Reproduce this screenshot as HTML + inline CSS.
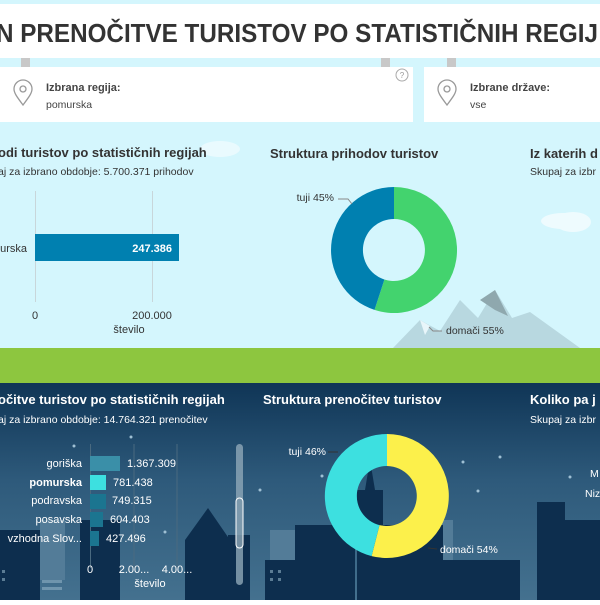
<!DOCTYPE html>
<html><head><meta charset="utf-8"><style>
body{margin:0;width:600px;height:600px;overflow:hidden;font-family:"Liberation Sans",sans-serif}
</style></head><body>
<svg width="600" height="600" viewBox="0 0 600 600" xmlns="http://www.w3.org/2000/svg" font-family="Liberation Sans, sans-serif">
<defs>
<linearGradient id="night" x1="0" y1="0" x2="0" y2="1">
<stop offset="0" stop-color="#0f3556"/><stop offset="0.45" stop-color="#2e5a7b"/><stop offset="1" stop-color="#44718f"/>
</linearGradient>
</defs>
<rect width="600" height="600" fill="#d4f6fd"/>
<rect x="0" y="4" width="600" height="54" fill="#fff"/>
<text x="-4" y="42" font-size="26" font-weight="bold" fill="#333" textLength="602" lengthAdjust="spacingAndGlyphs">N PRENOČITVE TURISTOV PO STATISTIČNIH REGIJ</text>
<rect x="21" y="58" width="9" height="9" fill="#c8c8c8"/>
<rect x="381" y="58" width="9" height="9" fill="#c8c8c8"/>
<rect x="447" y="58" width="9" height="9" fill="#c8c8c8"/>
<rect x="0" y="67" width="413" height="55" fill="#fff"/>
<rect x="424" y="67" width="176" height="55" fill="#fff"/>
<circle cx="402" cy="75" r="6" fill="none" stroke="#aaa" stroke-width="1"/>
<text x="402" y="78" font-size="8" fill="#999" text-anchor="middle">?</text>
<g fill="none" stroke="#999" stroke-width="1.3">
<path d="M23,105 C17,97 14,93 14,89 A9,9 0 0 1 32,89 C32,93 29,97 23,105 Z"/><circle cx="23" cy="89" r="3"/>
<path d="M447,105 C441,97 438,93 438,89 A9,9 0 0 1 456,89 C456,93 453,97 447,105 Z"/><circle cx="447" cy="89" r="3"/>
</g>
<text x="46" y="91" font-size="11" font-weight="bold" fill="#444">Izbrana regija:</text>
<text x="46" y="108" font-size="10.5" fill="#444">pomurska</text>
<text x="470" y="91" font-size="11" font-weight="bold" fill="#444">Izbrane države:</text>
<text x="470" y="108" font-size="10.5" fill="#444">vse</text>
<ellipse cx="220" cy="149" rx="20" ry="8" fill="#e9fafe"/>
<ellipse cx="563" cy="221" rx="22" ry="8" fill="#eefbfe"/>
<ellipse cx="573" cy="222" rx="18" ry="10" fill="#eefbfe"/>
<text x="-2" y="157" font-size="13" font-weight="bold" fill="#333">odi turistov po statističnih regijah</text>
<text x="-2" y="175" font-size="10.5" fill="#333">aj za izbrano obdobje: 5.700.371 prihodov</text>
<text x="270" y="158" font-size="13" font-weight="bold" fill="#333">Struktura prihodov turistov</text>
<text x="530" y="158" font-size="13" font-weight="bold" fill="#333">Iz katerih d</text>
<text x="530" y="175" font-size="10.5" fill="#333">Skupaj za izbr</text>
<line x1="35.5" y1="191" x2="35.5" y2="302" stroke="#c8d6da"/>
<line x1="152.5" y1="191" x2="152.5" y2="302" stroke="#c8d6da"/>
<rect x="35" y="234" width="144" height="27" fill="#0080b0"/>
<text x="172" y="252" font-size="11" font-weight="bold" fill="#fff" text-anchor="end">247.386</text>
<text x="27" y="252" font-size="11" fill="#333" text-anchor="end">urska</text>
<text x="35" y="319" font-size="11" fill="#333" text-anchor="middle">0</text>
<text x="152" y="319" font-size="11" fill="#333" text-anchor="middle">200.000</text>
<text x="129" y="333" font-size="11" fill="#333" text-anchor="middle">število</text>
<polygon points="393,348 420,320 440,331 460,300 478,318 495,290 512,318 530,312 555,330 580,348" fill="#b8d8e0"/>
<polygon points="480,300 495,290 508,316 495,310" fill="#8fa8ae"/>
<polygon points="420,320 430,326 425,335" fill="#e8f6fa"/>
<path d="M394,187 A63,63 0 1 1 374.5,309.9 L384.4,279.5 A31,31 0 1 0 394,219 Z" fill="#43d36e"/>
<path d="M374.5,309.9 A63,63 0 0 1 394,187 L394,219 A31,31 0 0 0 384.4,279.5 Z" fill="#0080b0"/>
<path d="M338,199 L348,199 L352,204" fill="none" stroke="#888"/>
<text x="334" y="201" font-size="10.5" fill="#333" text-anchor="end">tuji 45%</text>
<path d="M429,327 L433,331 L442,331" fill="none" stroke="#888"/>
<text x="446" y="334" font-size="10.5" fill="#333">domači 55%</text>
<rect x="0" y="348" width="600" height="35" fill="#8dc63f"/>
<rect x="0" y="383" width="600" height="217" fill="url(#night)"/>
<g fill="#537c98">
<rect x="40" y="520" width="25" height="60"/><rect x="270" y="530" width="30" height="60"/><rect x="438" y="520" width="15" height="80"/>
<rect x="570" y="540" width="30" height="60"/>
</g>
<g fill="#0d2e4e">
<rect x="0" y="530" width="40" height="70"/><rect x="80" y="520" width="40" height="80"/>
<polygon points="185,600 185,540 208,508 230,540 230,600"/>
<rect x="228" y="535" width="22" height="65"/>
<rect x="265" y="560" width="30" height="40"/>
<rect x="295" y="525" width="60" height="75"/>
<polygon points="357,600 357,490 365,490 370,460 375,490 383,490 383,600"/>
<rect x="383" y="525" width="60" height="75"/>
<rect x="440" y="560" width="80" height="40"/>
<rect x="537" y="502" width="28" height="98"/>
<rect x="565" y="520" width="35" height="80"/>
</g>
<g fill="#8fb0c4" opacity="0.6">
<rect x="2" y="570" width="3" height="3"/><rect x="2" y="578" width="3" height="3"/><rect x="42" y="580" width="20" height="3"/><rect x="42" y="587" width="20" height="3"/>
<rect x="270" y="570" width="3" height="3"/><rect x="278" y="570" width="3" height="3"/><rect x="270" y="578" width="3" height="3"/><rect x="278" y="578" width="3" height="3"/>
</g>
<g fill="#9fc0d4">
<circle cx="74" cy="446" r="1.5"/><circle cx="131" cy="437" r="1.5"/><circle cx="260" cy="490" r="1.5"/><circle cx="322" cy="476" r="1.5"/><circle cx="463" cy="462" r="1.5"/><circle cx="478" cy="491" r="1.5"/><circle cx="500" cy="457" r="1.5"/><circle cx="570" cy="477" r="1.5"/><circle cx="165" cy="532" r="1.5"/><circle cx="95" cy="467" r="1.5"/>
</g>
<text x="-2" y="404" font-size="13" font-weight="bold" fill="#fff">očitve turistov po statističnih regijah</text>
<text x="-2" y="423" font-size="10.5" fill="#fff">aj za izbrano obdobje: 14.764.321 prenočitev</text>
<text x="263" y="404" font-size="13" font-weight="bold" fill="#fff">Struktura prenočitev turistov</text>
<text x="530" y="404" font-size="13" font-weight="bold" fill="#fff">Koliko pa j</text>
<text x="530" y="423" font-size="10.5" fill="#fff">Skupaj za izbr</text>
<text x="590" y="477" font-size="10.5" fill="#fff">M</text>
<text x="585" y="497" font-size="10.5" fill="#fff">Niz</text>
<g stroke="#4a6a80"><line x1="90.5" y1="444" x2="90.5" y2="568"/><line x1="134" y1="444" x2="134" y2="568"/><line x1="177" y1="444" x2="177" y2="568"/></g>
<rect x="90" y="456" width="30" height="15" fill="#3a8fa8"/>
<rect x="90" y="475" width="16" height="15" fill="#3de0e0"/>
<rect x="90" y="494" width="16" height="15" fill="#1b7590"/>
<rect x="90" y="512" width="13" height="15" fill="#1b7590"/>
<rect x="90" y="531" width="9" height="15" fill="#1b7590"/>
<g font-size="11" fill="#fff">
<text x="82" y="467" text-anchor="end">goriška</text><text x="127" y="467">1.367.309</text>
<text x="82" y="486" text-anchor="end" font-weight="bold">pomurska</text><text x="113" y="486">781.438</text>
<text x="82" y="504" text-anchor="end">podravska</text><text x="112" y="504">749.315</text>
<text x="82" y="523" text-anchor="end">posavska</text><text x="110" y="523">604.403</text>
<text x="82" y="542" text-anchor="end">vzhodna Slov...</text><text x="106" y="542">427.496</text>
<text x="90" y="573" text-anchor="middle">0</text><text x="134" y="573" text-anchor="middle">2.00...</text><text x="177" y="573" text-anchor="middle">4.00...</text>
<text x="150" y="587" text-anchor="middle">število</text>
</g>
<rect x="236" y="444" width="7" height="141" rx="3.5" fill="#8ea8b8" opacity="0.8"/>
<rect x="236" y="498" width="7" height="50" rx="3.5" fill="none" stroke="#fff"/>
<path d="M387,434 A62,62 0 1 1 371.6,556.1 L379.5,525.1 A30,30 0 1 0 387,466 Z" fill="#fcf04b"/>
<path d="M371.6,556.1 A62,62 0 0 1 387,434 L387,466 A30,30 0 0 0 379.5,525.1 Z" fill="#3de0e0"/>
<path d="M328,452 L338,452" stroke="#333"/>
<text x="326" y="455" font-size="10.5" fill="#fff" text-anchor="end">tuji 46%</text>
<path d="M428,548 L437,549" stroke="#333"/>
<text x="440" y="553" font-size="10.5" fill="#fff">domači 54%</text>
</svg>
</body></html>
